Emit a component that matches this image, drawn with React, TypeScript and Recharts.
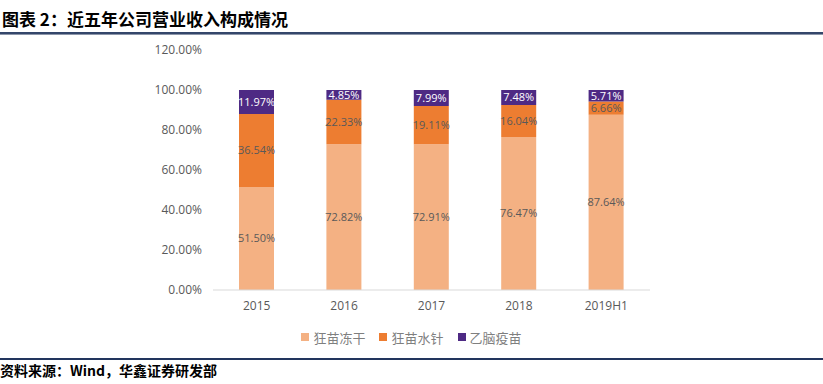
import React from "react";
import { BarChart, Bar, XAxis, YAxis, LabelList } from "recharts";

const categories = ["2015", "2016", "2017", "2018", "2019H1"];
const lyophilized = [51.5, 72.82, 72.91, 76.47, 87.64];
const waterInjection = [36.54, 22.33, 19.11, 16.04, 6.66];
const jeVaccine = [11.97, 4.85, 7.99, 7.48, 5.71];
const yTicks = [0, 20, 40, 60, 80, 100, 120];
const seriesNames = ["狂苗冻干", "狂苗水针", "乙脑疫苗"];
const seriesColors = ["#F4B183", "#ED7D31", "#4E2A84"];
const labelColors = ["#595959", "#595959", "#FFFFFF"];

const data = categories.map((c, i) => ({
  name: c,
  s0: lyophilized[i],
  s1: waterInjection[i],
  s2: jeVaccine[i],
}));

const FONT = "'Open Sans', 'Noto Sans CJK SC', sans-serif";

export default function App() {
  return (
    <div style={{ position: "fixed", left: 0, top: 0, width: 823, height: 384, background: "#fff", overflow: "hidden" }}>
      <div
        style={{
          position: "absolute",
          left: 2,
          top: 7,
          fontFamily: "'Noto Sans CJK SC', sans-serif",
          fontWeight: 700,
          fontSize: 17,
          lineHeight: "24px",
          color: "#000",
          whiteSpace: "nowrap",
        }}
      >
        图表 2：近五年公司营业收入构成情况
      </div>
      <div style={{ position: "absolute", left: 0, top: 32, width: 823, height: 2, background: "#34466A" }} />
      <div style={{ position: "absolute", left: 0, top: 34, width: 823, height: 1, background: "#8C96AA" }} />
      <div style={{ position: "absolute", left: 0, top: 0 }}>
        <BarChart
          width={823}
          height={350}
          data={data}
          margin={{ top: 50, right: 173, bottom: 0, left: 0 }}
          barSize={35}
        >
          <XAxis
            dataKey="name"
            height={60}
            tickLine={false}
            tickSize={0}
            tickMargin={11}
            axisLine={{ stroke: "#D9D9D9" }}
            tick={{ fill: "#595959", fontSize: 12, fontFamily: FONT }}
            interval={0}
          />
          <YAxis
            width={213}
            domain={[0, 120]}
            ticks={yTicks}
            axisLine={false}
            tickLine={false}
            tickSize={0}
            tickMargin={11}
            tickFormatter={(v: number) => `${v.toFixed(2)}%`}
            tick={{ fill: "#595959", fontSize: 12, fontFamily: FONT }}
          />
          {["s0", "s1", "s2"].map((k, i) => (
            <Bar key={k} dataKey={k} name={seriesNames[i]} stackId="a" fill={seriesColors[i]} isAnimationActive={false}>
              <LabelList
                dataKey={k}
                position="center"
                formatter={(v: number) => `${v.toFixed(2)}%`}
                style={{ fill: labelColors[i], fontSize: 11, fontFamily: FONT }}
              />
            </Bar>
          ))}
        </BarChart>
      </div>
      <div
        style={{
          position: "absolute",
          left: 0,
          top: 327,
          width: 823,
          height: 20,
          display: "flex",
          justifyContent: "center",
          alignItems: "center",
          fontFamily: "'Noto Sans CJK SC', sans-serif",
          fontSize: 13,
          color: "#7F7F7F",
        }}
      >
        {seriesNames.map((n, i) => (
          <div key={n} style={{ display: "flex", alignItems: "center", marginRight: i < 2 ? 14 : 0 }}>
            <span style={{ width: 8, height: 8, background: seriesColors[i], display: "inline-block", marginRight: 4 }} />
            <span>{n}</span>
          </div>
        ))}
      </div>
      <div style={{ position: "absolute", left: 0, top: 358, width: 823, height: 2, background: "#22355E" }} />
      <div
        style={{
          position: "absolute",
          left: 0,
          top: 360,
          fontFamily: "'Noto Sans CJK SC', sans-serif",
          fontWeight: 700,
          fontSize: 14,
          lineHeight: "20px",
          color: "#000",
          whiteSpace: "nowrap",
        }}
      >
        资料来源：Wind，华鑫证券研发部
      </div>
    </div>
  );
}
